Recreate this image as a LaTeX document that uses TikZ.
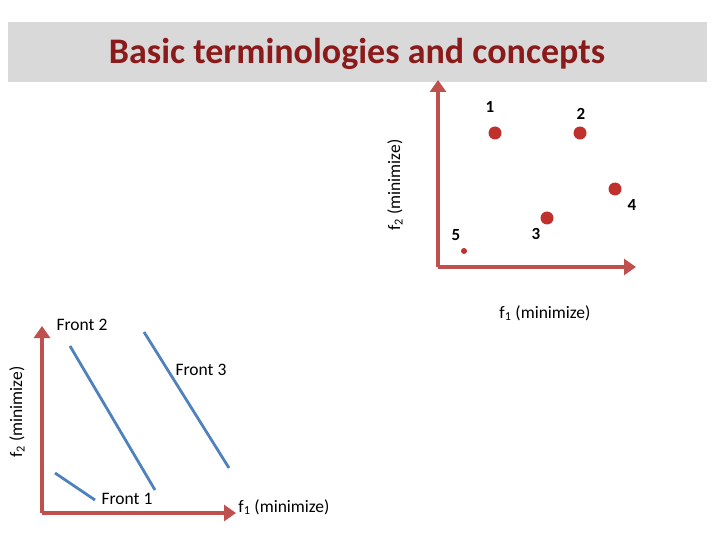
\documentclass[tikz,border=0pt]{standalone}
\usepackage{fontspec}
\setmainfont{Carlito}
\usetikzlibrary{arrows.meta}
\definecolor{axred}{HTML}{C0504D}
\definecolor{dotred}{HTML}{C0302D}
\definecolor{frontblue}{HTML}{4F81BD}
\definecolor{titlered}{HTML}{8B1A1A}
\begin{document}
\begin{tikzpicture}[x=1pt,y=-1pt,
  axis/.style={draw=axred,line width=4.5pt,-{Triangle[length=12pt,width=16pt]}},
  front/.style={draw=frontblue,line width=2.8pt},
  pt/.style={circle,fill=dotred,inner sep=0pt,minimum size=13pt},
  lbl/.style={font=\fontsize{17.5}{20}\selectfont,inner sep=0pt},
  num/.style={font=\fontsize{17}{20}\selectfont\bfseries,inner sep=0pt}]
\useasboundingbox (0,0) rectangle (720,540);
\fill[fill={rgb,255:red,217;green,217;blue,217}] (8,22) rectangle (707,82);
\node[font=\fontsize{36}{40}\selectfont\bfseries,text=titlered] (title) at (357,54) {Basic terminologies and concepts};
% top plot
\coordinate (o1) at (438,267);
\coordinate (y1) at (438,80);
\coordinate (x1) at (636,267);
\draw[axis] (o1) -- (y1);
\draw[axis] (o1) -- (x1);
\node[pt] (p1) at (495,133) {};
\node[pt] (p2) at (580,133) {};
\node[pt] (p4) at (615,189) {};
\node[pt] (p3) at (547,218) {};
\node[pt,minimum size=6pt] (p5) at (464,251) {};
\node[num] (l1) at (490,107) {1};
\node[num] (l2) at (581,114) {2};
\node[num] (l4) at (632,205) {4};
\node[num] (l3) at (536,234) {3};
\node[num] (l5) at (456,235) {5};
\node[lbl] (fx1) at (545,313) {f\textsubscript{1} (minimize)};
\node[lbl,rotate=90] (fy1) at (395,185) {f\textsubscript{2} (minimize)};
% bottom plot
\coordinate (o2) at (42,513);
\coordinate (y2) at (42,326);
\coordinate (x2) at (236,513);
\draw[axis] (o2) -- (y2);
\draw[axis] (o2) -- (x2);
\coordinate (a1) at (55,473); \coordinate (b1) at (95,500);
\coordinate (a2) at (70,346); \coordinate (b2) at (155,490);
\coordinate (a3) at (144,332); \coordinate (b3) at (229,468);
\draw[front] (a1) -- (b1);
\draw[front] (a2) -- (b2);
\draw[front] (a3) -- (b3);
\node[lbl] (fr2) at (82,325) {Front 2};
\node[lbl] (fr3) at (201,370) {Front 3};
\node[lbl] (fr1) at (127,499) {Front 1};
\node[lbl] (fx2) at (284,507) {f\textsubscript{1} (minimize)};
\node[lbl,rotate=90] (fy2) at (17,412) {f\textsubscript{2} (minimize)};
\end{tikzpicture}
\end{document}
